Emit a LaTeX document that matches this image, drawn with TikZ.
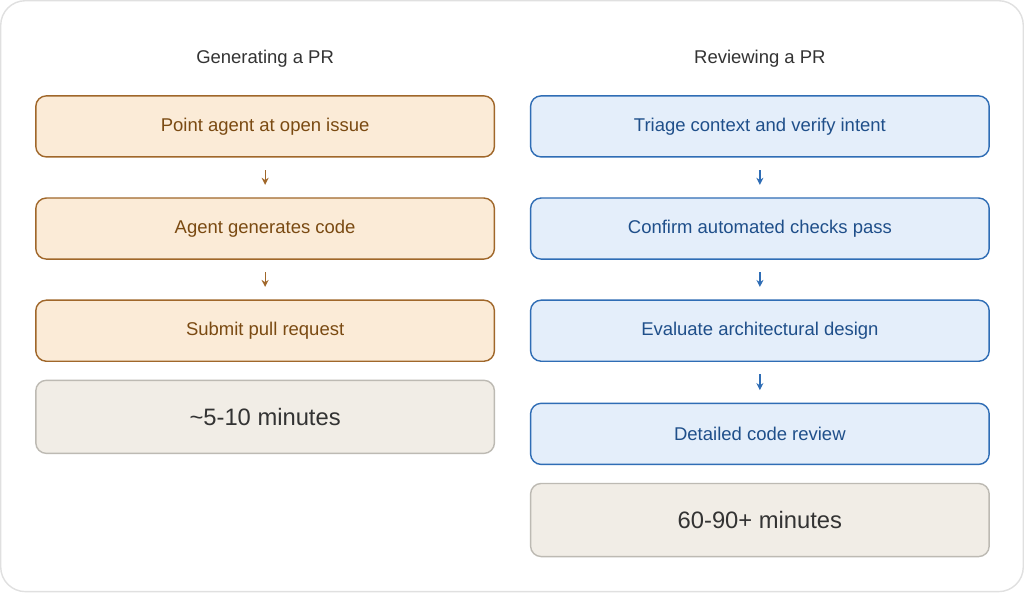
\documentclass[tikz,border=0pt]{standalone}
\usepackage{fontspec}
\setmainfont{Liberation Sans}
\usetikzlibrary{positioning,arrows.meta}
\definecolor{genfill}{HTML}{FBEBD7}
\definecolor{gendraw}{HTML}{A0672A}
\definecolor{gentext}{HTML}{7A4A12}
\definecolor{revfill}{HTML}{E4EEFA}
\definecolor{revdraw}{HTML}{2F6DB5}
\definecolor{revtext}{HTML}{1F4F8A}
\definecolor{timefill}{HTML}{F1EDE6}
\definecolor{timedraw}{HTML}{BDBAB3}
\begin{document}
\begin{tikzpicture}[x=0.02cm, y=-0.02cm,
    stage/.style={draw, rounded corners=6pt, minimum width=9.16cm, minimum height=1.22cm, font=\fontsize{10.5}{12}\selectfont, line width=0.8pt},
    gen/.style={stage, fill=genfill, draw=gendraw, text=gentext},
    rev/.style={stage, fill=revfill, draw=revdraw, text=revtext},
    time/.style={stage, fill=timefill, draw=timedraw, text=black!80, minimum height=1.46cm, font=\fontsize{13.5}{16}\selectfont},
    title/.style={font=\fontsize{10.5}{12}\selectfont, text=black!80},
    flow/.style={-{Stealth[length=4pt,width=4pt]}, line width=0.7pt, shorten <=0.25cm, shorten >=0.25cm}]

    % Frame
    \draw[black!12, line width=0.8pt, rounded corners=14pt, fill=white] (1,1) rectangle (1022,591);

    % Generating a PR
    \node[title] (gtitle) at (265,59) {Generating a PR};
    \node[gen] (g1) at (265,126.5) {Point agent at open issue};
    \node[gen] (g2) at (265,228.5) {Agent generates code};
    \node[gen] (g3) at (265,330.5) {Submit pull request};
    \node[time] (gtime) at (265,416.5) {\textasciitilde5-10 minutes};

    % Reviewing a PR
    \node[title] (rtitle) at (759,59) {Reviewing a PR};
    \node[rev] (r1) at (759,126.5) {Triage context and verify intent};
    \node[rev] (r2) at (759,228.5) {Confirm automated checks pass};
    \node[rev] (r3) at (759,330.5) {Evaluate architectural design};
    \node[rev] (r4) at (759,433.5) {Detailed code review};
    \node[time] (rtime) at (759,519.5) {60-90+ minutes};

    % Arrows
    \draw[flow, gendraw] (g1) -- (g2);
    \draw[flow, gendraw] (g2) -- (g3);
    \draw[flow, revdraw] (r1) -- (r2);
    \draw[flow, revdraw] (r2) -- (r3);
    \draw[flow, revdraw] (r3) -- (r4);
\end{tikzpicture}
\end{document}
